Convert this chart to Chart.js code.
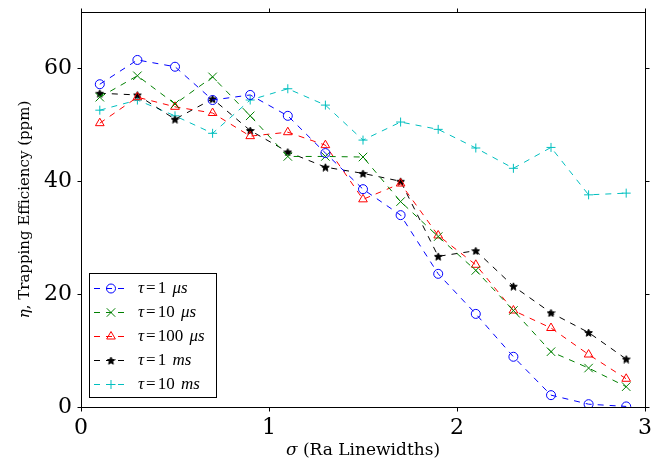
<!DOCTYPE html>
<html><head><meta charset="utf-8">
<script src="https://cdn.jsdelivr.net/npm/chart.js@4"></script>
<style>html,body{margin:0;padding:0;background:#fff}</style>
</head><body>
<canvas id="c" width="667" height="462" style="display:block;width:667px;height:462px"></canvas>
<script>
// ---- data ----
const sigma     = [0.1, 0.3, 0.5, 0.7, 0.9, 1.1, 1.3, 1.5, 1.7, 1.9, 2.1, 2.3, 2.5, 2.7, 2.9];
const tau1us    = [57.2, 61.5, 60.3, 54.4, 55.3, 51.6, 45.0, 38.6, 34.0, 23.6, 16.5, 8.9, 2.1, 0.5, 0.1];
const tau10us   = [54.9, 58.7, 53.7, 58.5, 51.6, 44.4, 44.4, 44.3, 36.4, 30.2, 24.2, 17.1, 9.8, 6.9, 3.6];
const tau100us  = [50.3, 54.9, 53.2, 52.1, 48.0, 48.7, 46.4, 36.8, 39.6, 30.4, 25.2, 17.1, 14.0, 9.3, 5.0];
const tau1ms    = [55.6, 55.3, 51.0, 54.6, 49.0, 45.2, 42.5, 41.4, 40.0, 26.7, 27.7, 21.4, 16.7, 13.2, 8.5];
const tau10ms   = [52.6, 54.4, 51.6, 48.5, 54.4, 56.4, 53.5, 47.3, 50.5, 49.2, 45.9, 42.3, 46.0, 37.6, 37.9];
const legendValues = ['1', '10', '100', '1', '10'];
const legendUnits  = ['μs', 'μs', 'μs', 'ms', 'ms'];
const xTicks = [0, 1, 2, 3];
const yTicks = [0, 20, 40, 60];
const xLabelSym = 'σ', xLabelText = ' (Ra Linewidths)';
const yLabelSym = 'η', yLabelText = ', Trapping Efficiency (ppm)';

// ---- star marker ----
function makeStar(size, color) {
  const cv = document.createElement('canvas');
  cv.width = size; cv.height = size;
  const g = cv.getContext('2d');
  const cx = size / 2, cy = size / 2 + 0.5, R = size / 2 - 0.5, r = R * 0.45;
  g.beginPath();
  for (let i = 0; i < 10; i++) {
    const a = -Math.PI / 2 + i * Math.PI / 5;
    const rr = i % 2 === 0 ? R : r;
    g.lineTo(cx + rr * Math.cos(a), cy + rr * Math.sin(a));
  }
  g.closePath();
  g.fillStyle = color; g.fill();
  g.lineWidth = 1; g.strokeStyle = color; g.stroke();
  return cv;
}
const starImg = makeStar(9, '#000');

const seriesData = [tau1us, tau10us, tau100us, tau1ms, tau10ms];
const colors = ['#0000ff', '#008000', '#ff0000', '#000000', '#00bfbf'];
const styles = ['circle', 'crossRot', 'triangle', starImg, 'cross'];
const radii = [4.5, 6, 5, 4.5, 4.5];

const datasets = seriesData.map((arr, i) => ({
  label: 'τ=' + legendValues[i] + ' ' + legendUnits[i],
  data: sigma.map((x, j) => ({ x: x, y: arr[j] })),
  borderColor: colors[i],
  backgroundColor: 'rgba(0,0,0,0)',
  pointBorderColor: colors[i],
  pointBackgroundColor: 'rgba(0,0,0,0)',
  borderWidth: 1,
  pointBorderWidth: 1,
  borderDash: [6, 6],
  pointStyle: styles[i],
  pointRadius: radii[i],
  pointHoverRadius: radii[i],
  tension: 0,
  fill: false
}));

const SERIF = '"DejaVu Serif", serif';

const framePlugin = {
  id: 'frame',
  afterDraw(chart) {
    const ctx = chart.ctx, a = chart.chartArea;
    const xs = chart.scales.x, ys = chart.scales.y;
    ctx.save();
    ctx.strokeStyle = '#000'; ctx.lineWidth = 1; ctx.setLineDash([]);
    const L = Math.round(a.left) + 0.5, R = Math.round(a.right) + 0.5;
    const T = Math.round(a.top) + 0.5, B = Math.round(a.bottom) + 0.5;
    ctx.strokeRect(L, T, R - L, B - T);
    const tl = 4;
    ctx.beginPath();
    xTicks.forEach(v => {
      const px = Math.round(xs.getPixelForValue(v)) + 0.5;
      ctx.moveTo(px, B); ctx.lineTo(px, B + tl);
      ctx.moveTo(px, T); ctx.lineTo(px, T - tl);
    });
    yTicks.forEach(v => {
      const py = Math.round(ys.getPixelForValue(v)) + 0.5;
      ctx.moveTo(L, py); ctx.lineTo(L - tl, py);
      ctx.moveTo(R, py); ctx.lineTo(R + tl, py);
    });
    ctx.stroke();

    // axis titles
    ctx.fillStyle = '#000';
    ctx.textBaseline = 'middle';
    function drawMixed(parts, x, y, fs) {
      let w = 0;
      parts.forEach(p => { ctx.font = p[1] + ' ' + fs + 'px ' + SERIF; w += ctx.measureText(p[0]).width; });
      let cx = x - w / 2;
      ctx.textAlign = 'left';
      parts.forEach(p => { ctx.font = p[1] + ' ' + fs + 'px ' + SERIF; ctx.fillText(p[0], cx, y); cx += ctx.measureText(p[0]).width; });
    }
    drawMixed([[xLabelSym, 'italic'], [xLabelText, 'normal']], (a.left + a.right) / 2, 451, 17);
    ctx.save();
    ctx.translate(25, (a.top + a.bottom) / 2);
    ctx.rotate(-Math.PI / 2);
    drawMixed([[yLabelSym, 'italic'], [yLabelText, 'normal']], 0, 0, 15);
    ctx.restore();

    // legend
    const bx = 89.5, by = 273.5, bw = 127, bh = 124;
    ctx.fillStyle = '#fff';
    ctx.fillRect(bx, by, bw, bh);
    ctx.strokeStyle = '#000';
    ctx.strokeRect(bx, by, bw, bh);
    const LF = '"Liberation Serif", "Times New Roman", serif';
    chart.data.datasets.forEach((ds, i) => {
      const y = 288 + i * 24;
      ctx.strokeStyle = ds.borderColor; ctx.lineWidth = 1;
      ctx.setLineDash([6, 6]);
      ctx.beginPath(); ctx.moveTo(94, y + 0.5); ctx.lineTo(128, y + 0.5); ctx.stroke();
      ctx.setLineDash([]);
      ctx.fillStyle = 'rgba(0,0,0,0)';
      ctx.strokeStyle = ds.borderColor;
      Chart.helpers.drawPoint(ctx, { pointStyle: ds.pointStyle, radius: ds.pointRadius, borderWidth: 1, rotation: 0 }, 111, y + 0.5);
      // text
      ctx.fillStyle = '#000';
      ctx.textAlign = 'left'; ctx.textBaseline = 'middle';
      let tx = 138;
      const segs = [['τ', 'italic'], ['=', 'normal'], [legendValues[i], 'normal'], [' ', 'normal'], [legendUnits[i], 'italic']];
      segs.forEach((s, k) => {
        ctx.font = s[1] + ' 17px ' + LF;
        if (k === 1) tx += 2;
        ctx.fillText(s[0], tx, y + 1);
        tx += ctx.measureText(s[0]).width;
        if (k === 1) tx += 2;
        if (k === 3) tx += 2;
      });
    });
    ctx.restore();
  }
};

new Chart(document.getElementById('c'), {
  type: 'line',
  data: { datasets: datasets },
  options: {
    responsive: false,
    devicePixelRatio: 1,
    animation: false,
    layout: { padding: { left: 0, right: 22, top: 12, bottom: 0 } },
    plugins: { legend: { display: false }, tooltip: { enabled: false } },
    scales: {
      x: {
        type: 'linear', min: 0, max: 3,
        afterFit: s => { s.height = 55; s.paddingLeft = 0; s.paddingRight = 0; },
        afterBuildTicks: s => { s.ticks = xTicks.map(v => ({ value: v })); },
        grid: { display: false, drawTicks: false }, border: { display: false },
        ticks: { color: '#000', font: { family: SERIF, size: 22 }, padding: 8, maxRotation: 0, autoSkip: false }
      },
      y: {
        type: 'linear', min: 0, max: 70,
        afterFit: s => { s.width = 81; s.paddingTop = 0; s.paddingBottom = 0; },
        afterBuildTicks: s => { s.ticks = yTicks.map(v => ({ value: v })); },
        grid: { display: false, drawTicks: false }, border: { display: false },
        ticks: { color: '#000', font: { family: SERIF, size: 22 }, padding: 9, autoSkip: false }
      }
    }
  },
  plugins: [framePlugin]
});
</script>
</body></html>
